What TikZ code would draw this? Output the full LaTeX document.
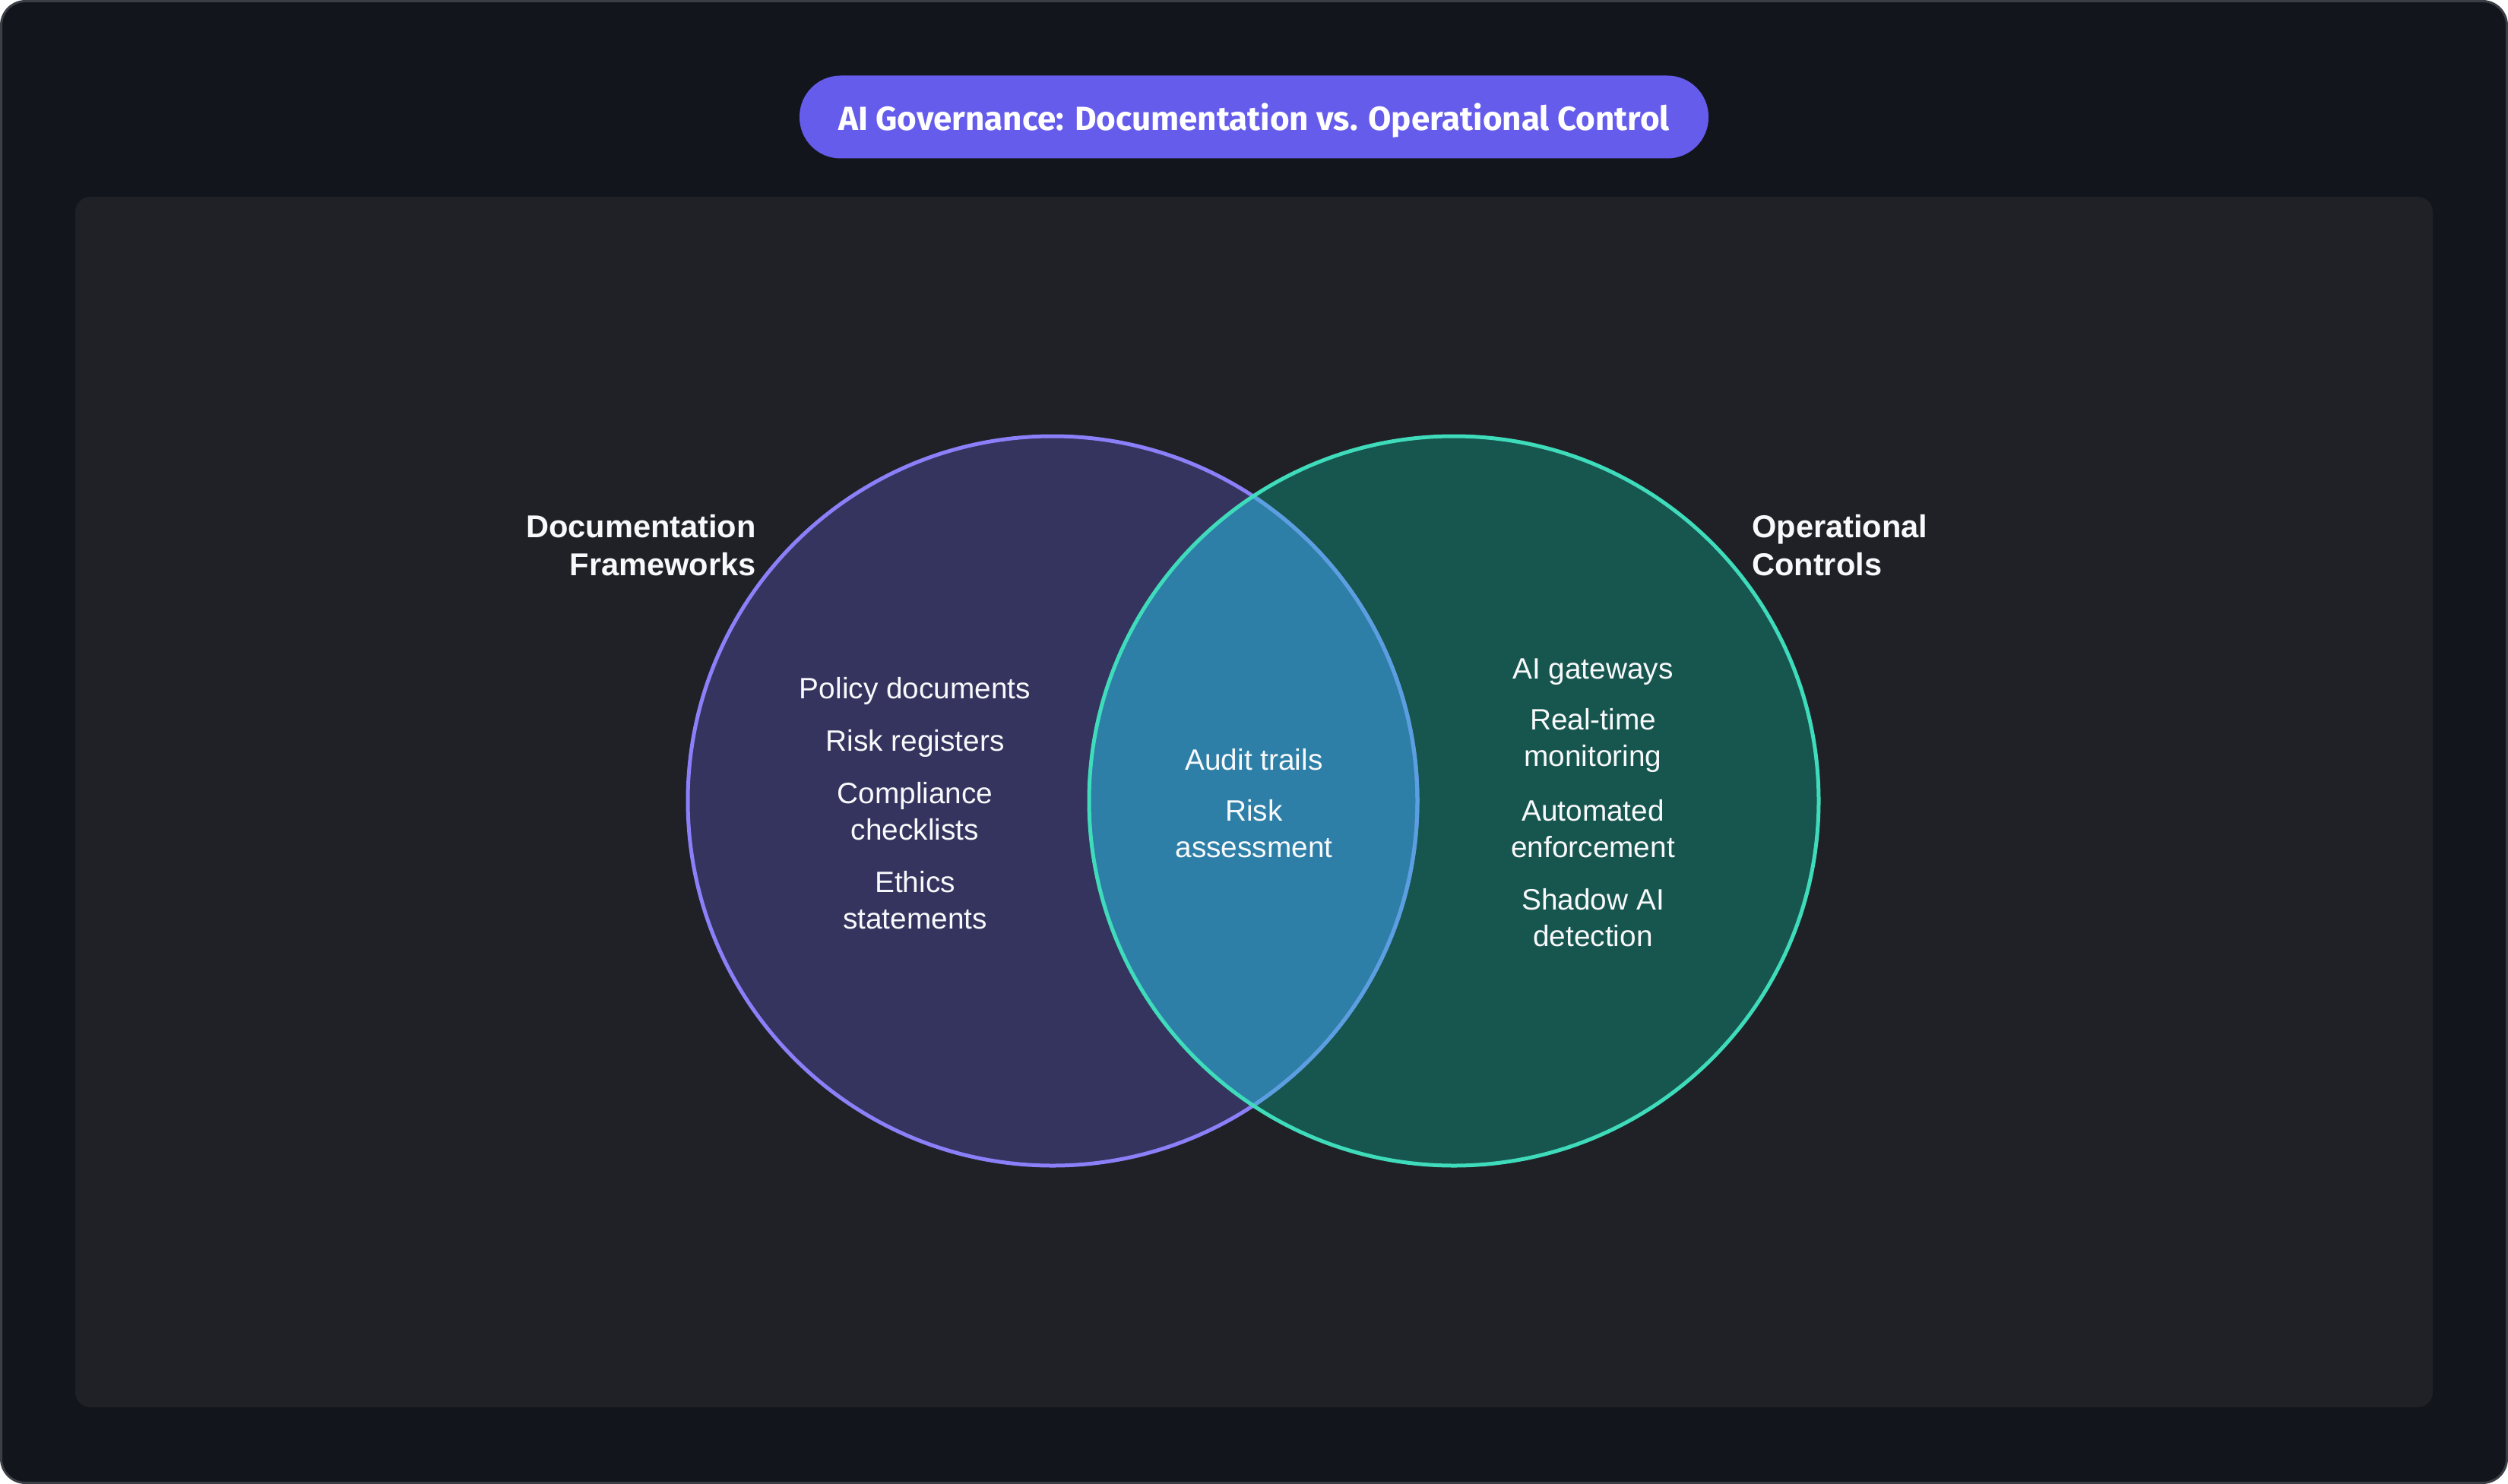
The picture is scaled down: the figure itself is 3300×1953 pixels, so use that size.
\documentclass[tikz,border=0pt]{standalone}
\usepackage{fontspec}
\setmainfont{Liberation Sans}
\newfontfamily\titlefont{Fira Sans}
\usetikzlibrary{positioning}
\definecolor{pagebg}{HTML}{12151C}
\definecolor{pageline}{HTML}{3B3E45}
\definecolor{panelbg}{HTML}{202126}
\definecolor{titlebg}{HTML}{655CEC}
\definecolor{docfill}{HTML}{35345F}
\definecolor{docline}{HTML}{8B80F9}
\definecolor{opsfill}{HTML}{17564F}
\definecolor{opsline}{HTML}{3FDCBC}
\definecolor{bothfill}{HTML}{2D7FA7}
\definecolor{bothline}{HTML}{5AA0E0}
\definecolor{inktext}{HTML}{F8F9FB}
\tikzset{
  setlabel/.style={text=inktext,font=\fontsize{41.6}{50}\selectfont\bfseries,inner sep=0pt},
  item/.style={text=inktext,font=\fontsize{38.8}{48}\selectfont,align=center,inner sep=0pt},
  titlepill/.style={fill=titlebg,rounded corners=54pt,minimum width=1196pt,minimum height=109pt,
    text depth=0pt,text=white,font=\titlefont\fontsize{44}{50}\selectfont\bfseries}
}
\begin{document}
\begin{tikzpicture}[x=1pt,y=-1pt]
  \useasboundingbox (0,0) rectangle (3300,1953);
  % background and panel
  \draw[fill=pagebg,draw=pageline,line width=3pt,rounded corners=32pt] (1.5,1.5) rectangle (3298.5,1951.5);
  \fill[panelbg,rounded corners=20pt] (99,259) rectangle (3201,1852);
  \node[titlepill] (title) at (1650,154) {AI Governance: Documentation vs. Operational Control};

  % the two sets
  \coordinate (docC) at (1385,1054);
  \coordinate (opsC) at (1913,1054);
  \fill[docfill] (docC) circle (480);
  \fill[opsfill] (opsC) circle (480);
  \begin{scope}
    \clip (docC) circle (480);
    \fill[bothfill] (opsC) circle (480);
  \end{scope}
  \draw[docline,line width=5pt] (docC) circle (480);
  \begin{scope}
    \clip (opsC) circle (480);
    \draw[bothline,line width=5pt] (docC) circle (480);
  \end{scope}
  \draw[opsline,line width=5pt] (opsC) circle (480);

  % set names
  \node[setlabel,align=right,anchor=east] (docname) at (995,718) {Documentation\\Frameworks};
  \node[setlabel,align=left,anchor=west] (opsname) at (2305,718) {Operational\\Controls};

  % documentation only
  \node[item] (policy) at (1204,909) {Policy documents};
  \node[item] (register) at (1204,978) {Risk registers};
  \node[item] (checklist) at (1204,1068) {Compliance\\checklists};
  \node[item] (ethics) at (1204,1185) {Ethics\\statements};

  % both
  \node[item] (audit) at (1650,1000) {Audit trails};
  \node[item] (assess) at (1650,1091) {Risk\\assessment};

  % operational only
  \node[item] (gateway) at (2096,884) {AI gateways};
  \node[item] (monitor) at (2096,974) {Real-time\\monitoring};
  \node[item] (enforce) at (2096,1091) {Automated\\enforcement};
  \node[item] (shadow) at (2096,1208) {Shadow AI\\detection};
\end{tikzpicture}
\end{document}
